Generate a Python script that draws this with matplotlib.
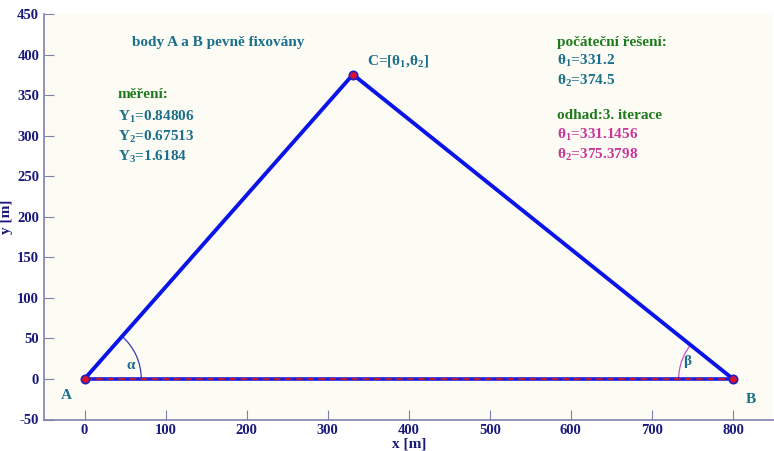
import numpy as np
import matplotlib
matplotlib.use("Agg")
import matplotlib.pyplot as plt
from matplotlib.patches import Arc

# fixed points A, B and the estimated point C
pt_a = (0.0, 0.0)
pt_b = (800.0, 0.0)
theta_init = [331.2, 374.5]
theta_est = [331.1456, 375.3798]
measurements = [0.84806, 0.67513, 1.6184]

x_ticks = [0, 100, 200, 300, 400, 500, 600, 700, 800]
y_ticks = [-50, 0, 50, 100, 150, 200, 250, 300, 350, 400, 450]

TEAL = "#1b6f8c"
GREEN = "#1f7a1f"
MAGENTA = "#c8369a"
NAVY = "#1a1a7a"
SPINE = "#8080b0"

plt.rcParams["font.family"] = ["Liberation Serif", "DejaVu Serif"]
plt.rcParams["font.weight"] = "bold"
plt.rcParams["axes.unicode_minus"] = False
plt.rcParams["mathtext.fontset"] = "custom"
plt.rcParams["mathtext.rm"] = "Liberation Serif:bold"
plt.rcParams["mathtext.bf"] = "Liberation Serif:bold"
plt.rcParams["mathtext.it"] = "Liberation Serif:bold"

fig = plt.figure(figsize=(7.74, 4.51), dpi=100)
ax = fig.add_axes([44 / 774, (451 - 419.5) / 451, 729.5 / 774, (419.5 - 14) / 451])
ax.set_facecolor("#fcfcf4")

cx, cy = theta_est
# triangle sides
ax.plot([pt_a[0], cx, pt_b[0]], [pt_a[1], cy, pt_b[1]], color="#0a14e6", lw=2.8,
        solid_capstyle="round", zorder=3)
ax.plot([pt_a[0], pt_b[0]], [pt_a[1], pt_b[1]], color="#1a1ae0", lw=2.6, zorder=3)
ax.plot([pt_a[0], pt_b[0]], [pt_a[1], pt_b[1]], color="#b01a3a", lw=1.6,
        dashes=(3, 2), zorder=4)
ax.plot([pt_a[0], pt_b[0], cx], [pt_a[1], pt_b[1], cy], "o", ms=6,
        mfc="#e0102a", mec="#2020c0", mew=1.2, zorder=5, clip_on=False)

# angle arcs
alpha = np.degrees(np.arctan2(cy - pt_a[1], cx - pt_a[0]))
beta = np.degrees(np.arctan2(cy - pt_b[1], pt_b[0] - cx))
ax.add_patch(Arc(pt_a, 140, 140, theta1=0, theta2=alpha, color="#3a3ab0", lw=0.9, zorder=2))
ax.add_patch(Arc(pt_b, 134, 134, theta1=180 - beta, theta2=180, color="#d050c8", lw=0.9, zorder=2))

fs = 11
ax.text(58, 415, "body A a B pevně fixovány", color=TEAL, fontsize=fs, va="center")
ax.text(348, 392, "C=[θ$_1$,θ$_2$]", color=TEAL, fontsize=fs, va="center")
ax.text(41, 351, "měření:", color=GREEN, fontsize=fs, va="center")
for i, (val, yy) in enumerate(zip(measurements, [323, 298, 274])):
    ax.text(41, yy, f"Y$_{i + 1}$={val}", color=TEAL, fontsize=fs, va="center")

ax.text(583, 415, "počáteční řešení:", color=GREEN, fontsize=fs, va="center")
ax.text(583, 392, f"θ$_1$={theta_init[0]}", color=TEAL, fontsize=fs, va="center")
ax.text(583, 367, f"θ$_2$={theta_init[1]}", color=TEAL, fontsize=fs, va="center")
ax.text(583, 325, "odhad:3. iterace", color=GREEN, fontsize=fs, va="center")
ax.text(583, 301, f"θ$_1$={theta_est[0]}", color=MAGENTA, fontsize=fs, va="center")
ax.text(583, 276, f"θ$_2$={theta_est[1]}", color=MAGENTA, fontsize=fs, va="center")

ax.text(57, 17, "α", color=TEAL, fontsize=fs, ha="center", va="center")
ax.text(744, 21, "β", color=TEAL, fontsize=fs, ha="center", va="center")
ax.text(-22, -21, "A", color=TEAL, fontsize=fs, ha="center", va="center")
ax.text(822, -25, "B", color=TEAL, fontsize=fs, ha="center", va="center")

ax.set_xlim(-50, 850)
ax.set_ylim(-50, 450)
ax.set_xticks(x_ticks)
ax.set_yticks(y_ticks)
ax.tick_params(direction="in", length=7, color=SPINE, labelcolor=NAVY, labelsize=10.5)
for lab in ax.get_xticklabels() + ax.get_yticklabels():
    lab.set_fontweight("bold")
for side in ("top", "right"):
    ax.spines[side].set_visible(False)
for side in ("left", "bottom"):
    ax.spines[side].set_color(SPINE)
    ax.spines[side].set_linewidth(1.2)

ax.set_xlabel("x [m]", color=NAVY, fontsize=11, fontweight="bold", labelpad=0)
ax.set_ylabel("y [m]", color=NAVY, fontsize=11, fontweight="bold", labelpad=3)

fig.text(405 / 774, 1.008, "schéma měření", color="#8a1048", fontsize=12,
         fontweight="bold", ha="center", va="center")

fig.savefig("out.png", dpi=100)
